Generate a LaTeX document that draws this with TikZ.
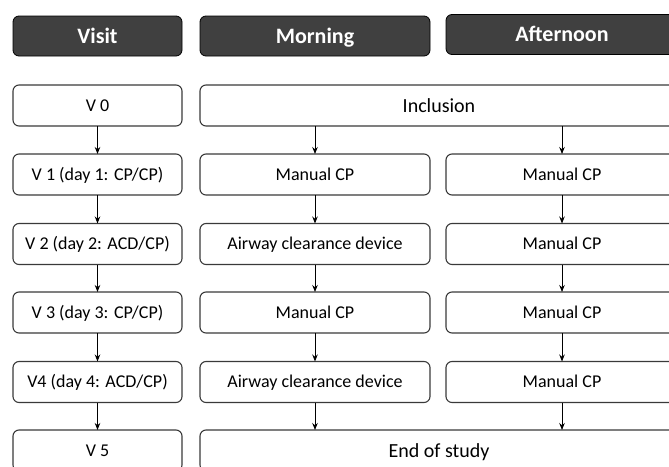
\documentclass[tikz,border=0pt]{standalone}
\usepackage{fontspec}
\setmainfont{Carlito}
\usetikzlibrary{arrows.meta}
\definecolor{headgray}{HTML}{404040}
\definecolor{boxgray}{HTML}{3A3A3A}
\begin{document}
\begin{tikzpicture}[x=1pt,y=-1pt,inner sep=0pt,outer sep=0pt,
headbox/.style={draw=black,fill=headgray,rounded corners=6pt,line width=0.8pt,text=white,minimum height=40pt,text height=16.5pt,text depth=2.2pt,font=\fontsize{22}{24}\selectfont\bfseries},
stagebox/.style={draw=boxgray,fill=white,rounded corners=6pt,line width=1.1pt,minimum height=41pt,text height=13.5pt,text depth=1.8pt,font=\fontsize{18}{20}\selectfont},
widebox/.style={stagebox,minimum width=478pt,text height=15pt,text depth=2pt,font=\fontsize{20}{22}\selectfont},
flow/.style={-{Stealth[length=7pt,width=5.5pt]},line width=0.9pt,draw=black}]
\useasboundingbox (0,0) rectangle (669,466);
\clip (0,0) rectangle (669,466);
% headers
\node[headbox,minimum width=169pt] (hVisit) at (97.5,36) {Visit};
\node[headbox,minimum width=230pt] (hMorning) at (315,36) {Morning};
\node[headbox,minimum width=232pt] (hAfternoon) at (562,34.5) {Afternoon};
% visits
\node[stagebox,minimum width=169pt] (v0) at (97.5,105.5) {V 0};
\node[stagebox,minimum width=169pt] (v1) at (97.5,174.5) {V 1 (day 1: CP/CP)};
\node[stagebox,minimum width=169pt] (v2) at (97.5,244) {V 2 (day 2: ACD/CP)};
\node[stagebox,minimum width=169pt] (v3) at (97.5,312.5) {V 3 (day 3: CP/CP)};
\node[stagebox,minimum width=169pt] (v4) at (97.5,382) {V4 (day 4: ACD/CP)};
\node[stagebox,minimum width=169pt] (v5) at (97.5,450.5) {V 5};
% sessions
\node[widebox] (inc) at (439,105.5) {Inclusion};
\node[stagebox,minimum width=230pt] (m1) at (315,174.5) {Manual CP};
\node[stagebox,minimum width=230pt] (m2) at (315,244) {Airway clearance device};
\node[stagebox,minimum width=230pt] (m3) at (315,312.5) {Manual CP};
\node[stagebox,minimum width=230pt] (m4) at (315,382) {Airway clearance device};
\node[stagebox,minimum width=232pt] (a1) at (562,174.5) {Manual CP};
\node[stagebox,minimum width=232pt] (a2) at (562,244) {Manual CP};
\node[stagebox,minimum width=232pt] (a3) at (562,312.5) {Manual CP};
\node[stagebox,minimum width=232pt] (a4) at (562,382) {Manual CP};
\node[widebox] (end) at (439,450.5) {End of study};
% arrows
\draw[flow] (v0) -- (v1);
\draw[flow] (v1) -- (v2);
\draw[flow] (v2) -- (v3);
\draw[flow] (v3) -- (v4);
\draw[flow] (v4) -- (v5);
\draw[flow] (inc.south -| m1) -- (m1);
\draw[flow] (m1) -- (m2);
\draw[flow] (m2) -- (m3);
\draw[flow] (m3) -- (m4);
\draw[flow] (m4) -- (m4 |- end.north);
\draw[flow] (inc.south -| a1) -- (a1);
\draw[flow] (a1) -- (a2);
\draw[flow] (a2) -- (a3);
\draw[flow] (a3) -- (a4);
\draw[flow] (a4) -- (a4 |- end.north);
\end{tikzpicture}
\end{document}
